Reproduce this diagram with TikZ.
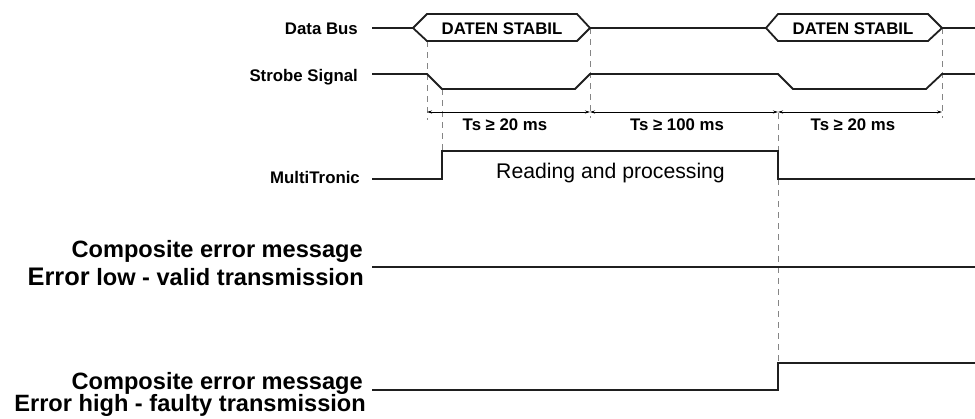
\documentclass[tikz,border=0pt]{standalone}
\usepackage{fontspec}
\setmainfont{Liberation Sans}
\usetikzlibrary{arrows.meta}
\begin{document}
\begin{tikzpicture}[x=1pt,y=-1pt,
  sig/.style={line width=1.8pt,color=black!88,line join=miter},
  guide/.style={line width=1pt,color=black!48,dash pattern=on 6pt off 5pt},
  dim/.style={line width=0.7pt,color=black,{Stealth[length=5pt,width=3pt]}-{Stealth[length=5pt,width=3pt]}},
  small/.style={font=\fontsize{16.8}{18}\selectfont\bfseries,inner sep=0pt,anchor=base east},
  big/.style={font=\fontsize{23.6}{26}\selectfont\bfseries,inner sep=0pt,anchor=base east},
  inbox/.style={font=\fontsize{16.8}{18}\selectfont\bfseries,inner sep=0pt,anchor=base},
  ts/.style={font=\fontsize{16.8}{18}\selectfont\bfseries,inner sep=0pt,anchor=base}]
\useasboundingbox (0,0) rectangle (975,418);

% labels
\node[small] (lbus) at (358,34) {Data Bus};
\node[small] (lstr) at (358,81) {Strobe Signal};
\node[small] (lmt)  at (360,183) {MultiTronic};
\node[big] (lc1a) at (363,257) {Composite error message};
\node[big] (lc1b) at (364,285) {{\fontsize{25.4}{26}\selectfont Error} low - valid transmission};
\node[big] (lc2a) at (363,389) {Composite error message};
\node[big] (lc2b) at (366,411) {Error high - faulty transmission};

% guide lines (dashed)
\draw[guide] (427,41) -- (427,120);
\draw[guide] (442,89) -- (442,151);
\draw[guide] (590,28) -- (590,118);
\draw[guide] (778,113) -- (778,363);
\draw[guide] (942,28) -- (942,118);

% data bus
\draw[sig] (372,28) -- (413,28);
\draw[sig] (413,28) -- (427,14) -- (577,14) -- (590,28) -- (577,41) -- (427,41) -- cycle;
\draw[sig] (590,28) -- (766,28);
\draw[sig] (766,28) -- (778,14) -- (928,14) -- (942,28) -- (928,41) -- (778,41) -- cycle;
\draw[sig] (942,28) -- (975,28);
\node[inbox] (d1) at (502,34) {DATEN STABIL};
\node[inbox] (d2) at (853,34) {DATEN STABIL};

% strobe
\draw[sig] (372,74) -- (427,74) -- (442,89) -- (575,89) -- (590,74) -- (778,74) -- (793,89) -- (926,89) -- (942,74) -- (975,74);

% dimensions
\draw[dim] (427,112) -- (590,112);
\draw[dim] (590,112) -- (778,112);
\draw[dim] (778,112) -- (942,112);
\node[ts] (t1) at (505,130) {Ts ≥ 20 ms};
\node[ts] (t2) at (677,130) {Ts ≥ 100 ms};
\node[ts] (t3) at (853,130) {Ts ≥ 20 ms};

% MultiTronic
\draw[sig] (372,179) -- (442,179) -- (442,151) -- (778,151) -- (778,179) -- (975,179);
\node[font=\fontsize{21.2}{24}\selectfont,inner sep=0pt,anchor=base west] (rp) at (496,178) {Reading and processing};

% composite error lines
\draw[sig] (372,267) -- (975,267);
\draw[sig] (372,390) -- (778,390) -- (778,363) -- (975,363);
\end{tikzpicture}
\end{document}
